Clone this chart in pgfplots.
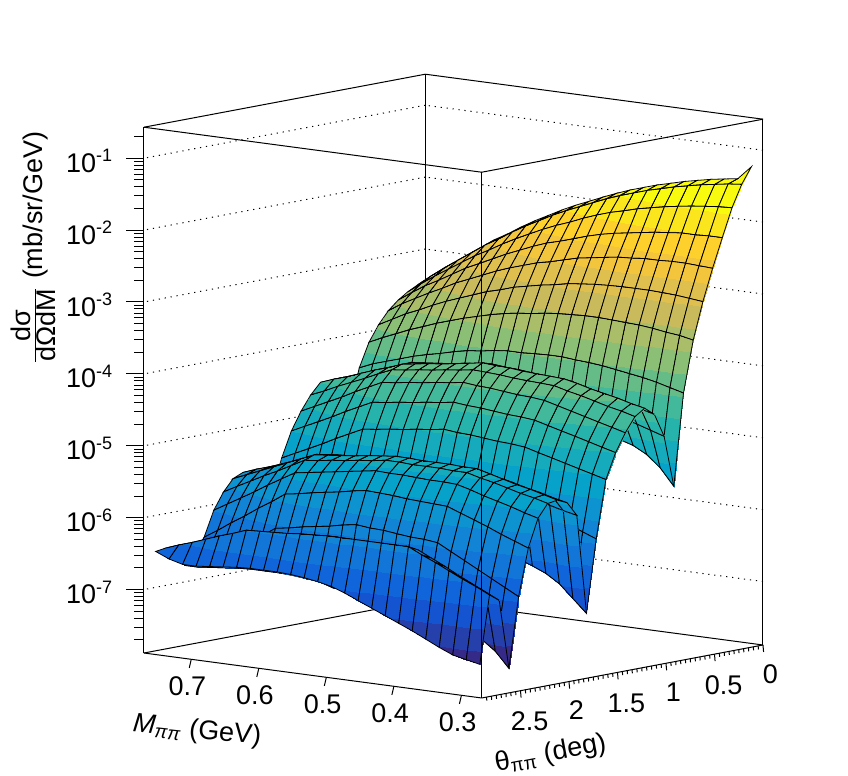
\documentclass[border=0pt]{standalone}
\usepackage{fontspec}
\setmainfont{Liberation Sans}
\usepackage{pgfplots}
\pgfplotsset{compat=1.18}
\pgfplotsset{colormap={bird20}{
rgb=(0.2082,0.1664,0.5293) rgb=(0.1455,0.2479,0.6721) rgb=(0.0827,0.3293,0.8148)
rgb=(0.0641,0.3978,0.8605) rgb=(0.0721,0.4585,0.8479) rgb=(0.0722,0.5186,0.8336)
rgb=(0.0492,0.5766,0.8137) rgb=(0.0261,0.6346,0.7939) rgb=(0.0810,0.6698,0.7366)
rgb=(0.1471,0.7018,0.6739) rgb=(0.2539,0.7244,0.6054) rgb=(0.4012,0.7376,0.5311)
rgb=(0.5453,0.7483,0.4601) rgb=(0.6668,0.7414,0.4111) rgb=(0.7882,0.7345,0.3621)
rgb=(0.8745,0.7497,0.3016) rgb=(0.9490,0.7721,0.2371) rgb=(0.9926,0.8173,0.1742)
rgb=(0.9845,0.9002,0.1141) rgb=(0.9764,0.9832,0.0539) rgb=(0.9764,0.9832,0.0539)}}
\newcommand{\tfont}{\fontsize{13.5}{16}\selectfont}
\newcommand{\ex}[1]{10\textsuperscript{\fontsize{9}{10}\selectfont #1}}
\begin{document}
\begin{tikzpicture}
\begin{axis}[
  x={(-337.7pt,45pt)}, y={(-48.5pt,-9.14pt)}, z={(0pt,15.61pt)},
  xmin=0.27, xmax=0.77, ymin=0, ymax=2.9, zmin=1.31e-8, zmax=0.27,
  zmode=log, enlargelimits=false, clip=false,
  3d box=complete,
  axis line style={black, line width=0.5pt},
  tick style={draw=none},
  tick align=outside,
  xticklabel pos=left, yticklabel pos=left, zticklabel pos=left,
  xtick pos=right, ytick pos=right, ztick pos=right,
  major tick length=5pt, minor tick length=2.5pt,
  xtick={0.3,0.4,0.5,0.6,0.7},
  ytick={0,0.5,1,1.5,2,2.5},
  ztick={1e-7,1e-6,1e-5,1e-4,1e-3,1e-2,1e-1},
  zticklabels={\ex{-7},\ex{-6},\ex{-5},\ex{-4},\ex{-3},\ex{-2},\ex{-1}},
  zmajorgrids=true,
  major grid style={black, line width=0.5pt, dash pattern=on 0.6pt off 2.4pt},
  tick label style={font=\tfont},
  xticklabel style={xshift=10.5pt, yshift=-3.5pt},
  yticklabel style={xshift=-8.5pt, yshift=-5.5pt},
  zticklabel style={xshift=-7pt},
  /pgf/number format/assume math mode=true,
  colormap name=bird20,
  colormap access=piecewise constant,
]
\addplot3[surf, shader=faceted interp, faceted color=black, line width=0.4pt, z buffer=sort, mesh/rows=29, mesh/cols=25]
table[x=m, y=t, z=z, row sep=\\] {
m t z\\
0.28 0.05 5.89e-2\\0.30 0.05 3.80e-2\\0.32 0.05 3.55e-2\\0.34 0.05 3.31e-2\\0.36 0.05 3.02e-2\\0.38 0.05 2.75e-2\\0.40 0.05 2.45e-2\\0.42 0.05 2.19e-2\\0.44 0.05 1.91e-2\\0.46 0.05 1.66e-2\\0.48 0.05 1.41e-2\\0.50 0.05 1.18e-2\\0.52 0.05 9.77e-3\\0.54 0.05 8.13e-3\\0.56 0.05 6.61e-3\\0.58 0.05 5.25e-3\\0.60 0.05 4.17e-3\\0.62 0.05 3.24e-3\\0.64 0.05 2.45e-3\\0.66 0.05 1.91e-3\\0.68 0.05 1.41e-3\\0.70 0.05 1.05e-3\\0.72 0.05 7.76e-4\\0.74 0.05 5.62e-4\\0.76 0.05 3.98e-4\\
0.28 0.15 3.55e-2\\0.30 0.15 3.39e-2\\0.32 0.15 3.16e-2\\0.34 0.15 2.95e-2\\0.36 0.15 2.69e-2\\0.38 0.15 2.45e-2\\0.40 0.15 2.19e-2\\0.42 0.15 1.95e-2\\0.44 0.15 1.70e-2\\0.46 0.15 1.48e-2\\0.48 0.15 1.26e-2\\0.50 0.15 1.05e-2\\0.52 0.15 8.71e-3\\0.54 0.15 7.24e-3\\0.56 0.15 5.89e-3\\0.58 0.15 4.68e-3\\0.60 0.15 3.72e-3\\0.62 0.15 2.88e-3\\0.64 0.15 2.19e-3\\0.66 0.15 1.70e-3\\0.68 0.15 1.26e-3\\0.70 0.15 9.33e-4\\0.72 0.15 6.92e-4\\0.74 0.15 5.01e-4\\0.76 0.15 3.55e-4\\
0.28 0.25 1.78e-2\\0.30 0.25 1.74e-2\\0.32 0.25 1.66e-2\\0.34 0.25 1.58e-2\\0.36 0.25 1.48e-2\\0.38 0.25 1.38e-2\\0.40 0.25 1.26e-2\\0.42 0.25 1.15e-2\\0.44 0.25 1.02e-2\\0.46 0.25 9.12e-3\\0.48 0.25 7.94e-3\\0.50 0.25 6.76e-3\\0.52 0.25 5.62e-3\\0.54 0.25 4.79e-3\\0.56 0.25 3.98e-3\\0.58 0.25 3.24e-3\\0.60 0.25 2.63e-3\\0.62 0.25 2.09e-3\\0.64 0.25 1.62e-3\\0.66 0.25 1.29e-3\\0.68 0.25 9.77e-4\\0.70 0.25 7.41e-4\\0.72 0.25 5.62e-4\\0.74 0.25 4.17e-4\\0.76 0.25 3.02e-4\\
0.28 0.35 7.24e-3\\0.30 0.35 7.24e-3\\0.32 0.35 7.08e-3\\0.34 0.35 7.08e-3\\0.36 0.35 6.76e-3\\0.38 0.35 6.46e-3\\0.40 0.35 6.03e-3\\0.42 0.35 5.62e-3\\0.44 0.35 5.25e-3\\0.46 0.35 4.79e-3\\0.48 0.35 4.27e-3\\0.50 0.35 3.72e-3\\0.52 0.35 3.24e-3\\0.54 0.35 2.88e-3\\0.56 0.35 2.45e-3\\0.58 0.35 2.04e-3\\0.60 0.35 1.70e-3\\0.62 0.35 1.38e-3\\0.64 0.35 1.12e-3\\0.66 0.35 9.12e-4\\0.68 0.35 7.08e-4\\0.70 0.35 5.50e-4\\0.72 0.35 4.37e-4\\0.74 0.35 3.31e-4\\0.76 0.35 2.45e-4\\
0.28 0.45 2.88e-3\\0.30 0.45 2.95e-3\\0.32 0.45 3.02e-3\\0.34 0.45 3.02e-3\\0.36 0.45 2.95e-3\\0.38 0.45 2.95e-3\\0.40 0.45 2.82e-3\\0.42 0.45 2.75e-3\\0.44 0.45 2.57e-3\\0.46 0.45 2.40e-3\\0.48 0.45 2.24e-3\\0.50 0.45 2.00e-3\\0.52 0.45 1.78e-3\\0.54 0.45 1.62e-3\\0.56 0.45 1.41e-3\\0.58 0.45 1.23e-3\\0.60 0.45 1.05e-3\\0.62 0.45 8.71e-4\\0.64 0.45 7.24e-4\\0.66 0.45 6.03e-4\\0.68 0.45 4.79e-4\\0.70 0.45 3.89e-4\\0.72 0.45 3.09e-4\\0.74 0.45 2.45e-4\\0.76 0.45 1.86e-4\\
0.28 0.55 1.05e-3\\0.30 0.55 1.10e-3\\0.32 0.55 1.15e-3\\0.34 0.55 1.18e-3\\0.36 0.55 1.20e-3\\0.38 0.55 1.20e-3\\0.40 0.55 1.20e-3\\0.42 0.55 1.18e-3\\0.44 0.55 1.15e-3\\0.46 0.55 1.10e-3\\0.48 0.55 1.05e-3\\0.50 0.55 9.55e-4\\0.52 0.55 8.91e-4\\0.54 0.55 8.13e-4\\0.56 0.55 7.41e-4\\0.58 0.55 6.46e-4\\0.60 0.55 5.75e-4\\0.62 0.55 4.90e-4\\0.64 0.55 4.17e-4\\0.66 0.55 3.55e-4\\0.68 0.55 2.95e-4\\0.70 0.55 2.40e-4\\0.72 0.55 2.00e-4\\0.74 0.55 1.58e-4\\0.76 0.55 1.26e-4\\
0.28 0.65 3.24e-4\\0.30 0.65 3.55e-4\\0.32 0.65 3.72e-4\\0.34 0.65 3.98e-4\\0.36 0.65 4.17e-4\\0.38 0.65 4.27e-4\\0.40 0.65 4.37e-4\\0.42 0.65 4.47e-4\\0.44 0.65 4.47e-4\\0.46 0.65 4.37e-4\\0.48 0.65 4.27e-4\\0.50 0.65 4.07e-4\\0.52 0.65 3.80e-4\\0.54 0.65 3.63e-4\\0.56 0.65 3.39e-4\\0.58 0.65 3.09e-4\\0.60 0.65 2.75e-4\\0.62 0.65 2.45e-4\\0.64 0.65 2.14e-4\\0.66 0.65 1.86e-4\\0.68 0.65 1.58e-4\\0.70 0.65 1.35e-4\\0.72 0.65 1.12e-4\\0.74 0.65 9.33e-5\\0.76 0.65 7.59e-5\\
0.28 0.75 6.31e-5\\0.30 0.75 7.08e-5\\0.32 0.75 7.94e-5\\0.34 0.75 8.71e-5\\0.36 0.75 9.33e-5\\0.38 0.75 1.00e-4\\0.40 0.75 1.07e-4\\0.42 0.75 1.12e-4\\0.44 0.75 1.15e-4\\0.46 0.75 1.20e-4\\0.48 0.75 1.20e-4\\0.50 0.75 1.18e-4\\0.52 0.75 1.15e-4\\0.54 0.75 1.15e-4\\0.56 0.75 1.10e-4\\0.58 0.75 1.02e-4\\0.60 0.75 9.77e-5\\0.62 0.75 8.91e-5\\0.64 0.75 7.94e-5\\0.66 0.75 7.24e-5\\0.68 0.75 6.46e-5\\0.70 0.75 5.62e-5\\0.72 0.75 4.90e-5\\0.74 0.75 4.27e-5\\0.76 0.75 3.55e-5\\
0.28 0.85 3.39e-6\\0.30 0.85 5.75e-6\\0.32 0.85 8.32e-6\\0.34 0.85 1.05e-5\\0.36 0.85 1.20e-5\\0.38 0.85 1.38e-5\\0.40 0.85 1.58e-5\\0.42 0.85 1.66e-5\\0.44 0.85 1.78e-5\\0.46 0.85 1.86e-5\\0.48 0.85 2.00e-5\\0.50 0.85 2.09e-5\\0.52 0.85 2.24e-5\\0.54 0.85 2.19e-5\\0.56 0.85 2.09e-5\\0.58 0.85 2.04e-5\\0.60 0.85 2.00e-5\\0.62 0.85 1.91e-5\\0.64 0.85 1.86e-5\\0.66 0.85 1.66e-5\\0.68 0.85 1.51e-5\\0.70 0.85 1.35e-5\\0.72 0.85 1.23e-5\\0.74 0.85 1.10e-5\\0.76 0.85 1.00e-5\\
0.28 0.95 1.78e-5\\0.30 0.95 2.04e-5\\0.32 0.95 2.34e-5\\0.34 0.95 2.63e-5\\0.36 0.95 3.02e-5\\0.38 0.95 3.47e-5\\0.40 0.95 3.98e-5\\0.42 0.95 4.17e-5\\0.44 0.95 4.47e-5\\0.46 0.95 4.68e-5\\0.48 0.95 5.01e-5\\0.50 0.95 5.25e-5\\0.52 0.95 5.62e-5\\0.54 0.95 5.50e-5\\0.56 0.95 5.25e-5\\0.58 0.95 5.13e-5\\0.60 0.95 5.01e-5\\0.62 0.95 4.79e-5\\0.64 0.95 4.68e-5\\0.66 0.95 4.17e-5\\0.68 0.95 3.80e-5\\0.70 0.95 3.39e-5\\0.72 0.95 3.09e-5\\0.74 0.95 2.75e-5\\0.76 0.95 2.51e-5\\
0.28 1.05 3.80e-5\\0.30 1.05 4.27e-5\\0.32 1.05 4.79e-5\\0.34 1.05 5.37e-5\\0.36 1.05 6.03e-5\\0.38 1.05 6.76e-5\\0.40 1.05 7.59e-5\\0.42 1.05 7.94e-5\\0.44 1.05 8.13e-5\\0.46 1.05 8.51e-5\\0.48 1.05 8.91e-5\\0.50 1.05 9.12e-5\\0.52 1.05 9.55e-5\\0.54 1.05 9.12e-5\\0.56 1.05 8.71e-5\\0.58 1.05 8.13e-5\\0.60 1.05 7.76e-5\\0.62 1.05 7.41e-5\\0.64 1.05 7.08e-5\\0.66 1.05 6.03e-5\\0.68 1.05 5.25e-5\\0.70 1.05 4.47e-5\\0.72 1.05 3.80e-5\\0.74 1.05 3.31e-5\\0.76 1.05 2.82e-5\\
0.28 1.15 4.90e-5\\0.30 1.15 5.37e-5\\0.32 1.15 6.03e-5\\0.34 1.15 6.61e-5\\0.36 1.15 7.24e-5\\0.38 1.15 8.13e-5\\0.40 1.15 8.91e-5\\0.42 1.15 9.12e-5\\0.44 1.15 9.33e-5\\0.46 1.15 9.55e-5\\0.48 1.15 1.00e-4\\0.50 1.15 1.02e-4\\0.52 1.15 1.05e-4\\0.54 1.15 9.77e-5\\0.56 1.15 9.12e-5\\0.58 1.15 8.51e-5\\0.60 1.15 8.13e-5\\0.62 1.15 7.59e-5\\0.64 1.15 7.08e-5\\0.66 1.15 6.03e-5\\0.68 1.15 5.25e-5\\0.70 1.15 4.47e-5\\0.72 1.15 3.80e-5\\0.74 1.15 3.31e-5\\0.76 1.15 2.82e-5\\
0.28 1.25 3.98e-5\\0.30 1.25 4.47e-5\\0.32 1.25 4.90e-5\\0.34 1.25 5.50e-5\\0.36 1.25 6.17e-5\\0.38 1.25 6.76e-5\\0.40 1.25 7.59e-5\\0.42 1.25 7.76e-5\\0.44 1.25 7.94e-5\\0.46 1.25 8.13e-5\\0.48 1.25 8.51e-5\\0.50 1.25 8.71e-5\\0.52 1.25 8.91e-5\\0.54 1.25 8.32e-5\\0.56 1.25 7.94e-5\\0.58 1.25 7.41e-5\\0.60 1.25 7.08e-5\\0.62 1.25 6.61e-5\\0.64 1.25 6.31e-5\\0.66 1.25 5.25e-5\\0.68 1.25 4.27e-5\\0.70 1.25 3.55e-5\\0.72 1.25 2.95e-5\\0.74 1.25 2.40e-5\\0.76 1.25 2.00e-5\\
0.28 1.35 2.51e-5\\0.30 1.35 2.82e-5\\0.32 1.35 3.16e-5\\0.34 1.35 3.55e-5\\0.36 1.35 3.98e-5\\0.38 1.35 4.47e-5\\0.40 1.35 5.01e-5\\0.42 1.35 5.25e-5\\0.44 1.35 5.37e-5\\0.46 1.35 5.62e-5\\0.48 1.35 5.89e-5\\0.50 1.35 6.03e-5\\0.52 1.35 6.31e-5\\0.54 1.35 5.89e-5\\0.56 1.35 5.62e-5\\0.58 1.35 5.25e-5\\0.60 1.35 5.01e-5\\0.62 1.35 4.68e-5\\0.64 1.35 4.47e-5\\0.66 1.35 3.63e-5\\0.68 1.35 2.95e-5\\0.70 1.35 2.34e-5\\0.72 1.35 1.91e-5\\0.74 1.35 1.55e-5\\0.76 1.35 1.26e-5\\
0.28 1.45 1.41e-5\\0.30 1.45 1.58e-5\\0.32 1.45 1.78e-5\\0.34 1.45 2.00e-5\\0.36 1.45 2.24e-5\\0.38 1.45 2.51e-5\\0.40 1.45 2.82e-5\\0.42 1.45 2.95e-5\\0.44 1.45 3.02e-5\\0.46 1.45 3.16e-5\\0.48 1.45 3.31e-5\\0.50 1.45 3.39e-5\\0.52 1.45 3.55e-5\\0.54 1.45 3.31e-5\\0.56 1.45 3.16e-5\\0.58 1.45 2.95e-5\\0.60 1.45 2.82e-5\\0.62 1.45 2.63e-5\\0.64 1.45 2.51e-5\\0.66 1.45 2.04e-5\\0.68 1.45 1.66e-5\\0.70 1.45 1.32e-5\\0.72 1.45 1.07e-5\\0.74 1.45 8.71e-6\\0.76 1.45 7.08e-6\\
0.28 1.55 6.31e-6\\0.30 1.55 7.08e-6\\0.32 1.55 7.94e-6\\0.34 1.55 8.91e-6\\0.36 1.55 1.00e-5\\0.38 1.55 1.12e-5\\0.40 1.55 1.26e-5\\0.42 1.55 1.32e-5\\0.44 1.55 1.35e-5\\0.46 1.55 1.41e-5\\0.48 1.55 1.48e-5\\0.50 1.55 1.51e-5\\0.52 1.55 1.58e-5\\0.54 1.55 1.48e-5\\0.56 1.55 1.41e-5\\0.58 1.55 1.32e-5\\0.60 1.55 1.26e-5\\0.62 1.55 1.18e-5\\0.64 1.55 1.12e-5\\0.66 1.55 9.12e-6\\0.68 1.55 7.41e-6\\0.70 1.55 5.89e-6\\0.72 1.55 4.79e-6\\0.74 1.55 3.89e-6\\0.76 1.55 3.16e-6\\
0.28 1.65 1.00e-6\\0.30 1.65 1.18e-6\\0.32 1.65 1.41e-6\\0.34 1.65 1.66e-6\\0.36 1.65 2.00e-6\\0.38 1.65 2.34e-6\\0.40 1.65 2.82e-6\\0.42 1.65 2.95e-6\\0.44 1.65 3.16e-6\\0.46 1.65 3.31e-6\\0.48 1.65 3.55e-6\\0.50 1.65 3.72e-6\\0.52 1.65 3.98e-6\\0.54 1.65 3.80e-6\\0.56 1.65 3.72e-6\\0.58 1.65 3.55e-6\\0.60 1.65 3.39e-6\\0.62 1.65 3.31e-6\\0.64 1.65 3.16e-6\\0.66 1.65 2.63e-6\\0.68 1.65 2.24e-6\\0.70 1.65 1.86e-6\\0.72 1.65 1.58e-6\\0.74 1.65 1.32e-6\\0.76 1.65 1.12e-6\\
0.28 1.75 9.77e-8\\0.30 1.75 1.48e-7\\0.32 1.75 2.24e-7\\0.34 1.75 2.95e-7\\0.36 1.75 3.55e-7\\0.38 1.75 4.17e-7\\0.40 1.75 5.01e-7\\0.42 1.75 5.25e-7\\0.44 1.75 5.62e-7\\0.46 1.75 5.89e-7\\0.48 1.75 6.31e-7\\0.50 1.75 6.61e-7\\0.52 1.75 7.08e-7\\0.54 1.75 6.76e-7\\0.56 1.75 6.61e-7\\0.58 1.75 6.31e-7\\0.60 1.75 6.03e-7\\0.62 1.75 5.89e-7\\0.64 1.75 5.62e-7\\0.66 1.75 4.68e-7\\0.68 1.75 3.98e-7\\0.70 1.75 3.31e-7\\0.72 1.75 2.82e-7\\0.74 1.75 2.34e-7\\0.76 1.75 2.00e-7\\
0.28 1.85 2.40e-6\\0.30 1.85 2.63e-6\\0.32 1.85 2.95e-6\\0.34 1.85 3.24e-6\\0.36 1.85 3.63e-6\\0.38 1.85 3.98e-6\\0.40 1.85 4.47e-6\\0.42 1.85 4.57e-6\\0.44 1.85 4.68e-6\\0.46 1.85 4.68e-6\\0.48 1.85 4.79e-6\\0.50 1.85 4.90e-6\\0.52 1.85 5.01e-6\\0.54 1.85 4.90e-6\\0.56 1.85 4.68e-6\\0.58 1.85 4.57e-6\\0.60 1.85 4.47e-6\\0.62 1.85 4.27e-6\\0.64 1.85 4.17e-6\\0.66 1.85 3.80e-6\\0.68 1.85 3.47e-6\\0.70 1.85 3.16e-6\\0.72 1.85 2.88e-6\\0.74 1.85 2.63e-6\\0.76 1.85 2.40e-6\\
0.28 1.95 3.80e-6\\0.30 1.95 4.17e-6\\0.32 1.95 4.68e-6\\0.34 1.95 5.13e-6\\0.36 1.95 5.75e-6\\0.38 1.95 6.31e-6\\0.40 1.95 7.08e-6\\0.42 1.95 7.24e-6\\0.44 1.95 7.41e-6\\0.46 1.95 7.41e-6\\0.48 1.95 7.59e-6\\0.50 1.95 7.76e-6\\0.52 1.95 7.94e-6\\0.54 1.95 7.59e-6\\0.56 1.95 7.41e-6\\0.58 1.95 7.08e-6\\0.60 1.95 6.76e-6\\0.62 1.95 6.61e-6\\0.64 1.95 6.31e-6\\0.66 1.95 5.37e-6\\0.68 1.95 4.68e-6\\0.70 1.95 3.98e-6\\0.72 1.95 3.39e-6\\0.74 1.95 2.95e-6\\0.76 1.95 2.51e-6\\
0.28 2.05 4.37e-6\\0.30 2.05 4.90e-6\\0.32 2.05 5.50e-6\\0.34 2.05 6.03e-6\\0.36 2.05 6.76e-6\\0.38 2.05 7.59e-6\\0.40 2.05 8.51e-6\\0.42 2.05 8.51e-6\\0.44 2.05 8.71e-6\\0.46 2.05 8.71e-6\\0.48 2.05 8.71e-6\\0.50 2.05 8.91e-6\\0.52 2.05 8.91e-6\\0.54 2.05 8.51e-6\\0.56 2.05 8.13e-6\\0.58 2.05 7.59e-6\\0.60 2.05 7.24e-6\\0.62 2.05 6.92e-6\\0.64 2.05 6.61e-6\\0.66 2.05 5.50e-6\\0.68 2.05 4.57e-6\\0.70 2.05 3.80e-6\\0.72 2.05 3.16e-6\\0.74 2.05 2.63e-6\\0.76 2.05 2.19e-6\\
0.28 2.15 4.17e-6\\0.30 2.15 4.68e-6\\0.32 2.15 5.13e-6\\0.34 2.15 5.75e-6\\0.36 2.15 6.46e-6\\0.38 2.15 7.08e-6\\0.40 2.15 7.94e-6\\0.42 2.15 7.94e-6\\0.44 2.15 8.13e-6\\0.46 2.15 8.13e-6\\0.48 2.15 8.13e-6\\0.50 2.15 8.32e-6\\0.52 2.15 8.32e-6\\0.54 2.15 7.76e-6\\0.56 2.15 7.41e-6\\0.58 2.15 6.92e-6\\0.60 2.15 6.61e-6\\0.62 2.15 6.17e-6\\0.64 2.15 5.89e-6\\0.66 2.15 4.68e-6\\0.68 2.15 3.72e-6\\0.70 2.15 3.02e-6\\0.72 2.15 2.40e-6\\0.74 2.15 1.91e-6\\0.76 2.15 1.51e-6\\
0.28 2.25 2.75e-6\\0.30 2.25 3.09e-6\\0.32 2.25 3.55e-6\\0.34 2.25 3.98e-6\\0.36 2.25 4.47e-6\\0.38 2.25 5.13e-6\\0.40 2.25 5.75e-6\\0.42 2.25 5.89e-6\\0.44 2.25 5.89e-6\\0.46 2.25 6.03e-6\\0.48 2.25 6.17e-6\\0.50 2.25 6.17e-6\\0.52 2.25 6.31e-6\\0.54 2.25 5.89e-6\\0.56 2.25 5.50e-6\\0.58 2.25 5.13e-6\\0.60 2.25 4.79e-6\\0.62 2.25 4.47e-6\\0.64 2.25 4.17e-6\\0.66 2.25 3.24e-6\\0.68 2.25 2.51e-6\\0.70 2.25 1.91e-6\\0.72 2.25 1.48e-6\\0.74 2.25 1.15e-6\\0.76 2.25 8.91e-7\\
0.28 2.35 1.12e-6\\0.30 2.35 1.32e-6\\0.32 2.35 1.55e-6\\0.34 2.35 1.86e-6\\0.36 2.35 2.19e-6\\0.38 2.35 2.57e-6\\0.40 2.35 3.02e-6\\0.42 2.35 3.09e-6\\0.44 2.35 3.16e-6\\0.46 2.35 3.24e-6\\0.48 2.35 3.39e-6\\0.50 2.35 3.47e-6\\0.52 2.35 3.55e-6\\0.54 2.35 3.31e-6\\0.56 2.35 3.02e-6\\0.58 2.35 2.82e-6\\0.60 2.35 2.63e-6\\0.62 2.35 2.40e-6\\0.64 2.35 2.24e-6\\0.66 2.35 1.66e-6\\0.68 2.35 1.26e-6\\0.70 2.35 9.33e-7\\0.72 2.35 7.08e-7\\0.74 2.35 5.25e-7\\0.76 2.35 3.98e-7\\
0.28 2.45 2.51e-7\\0.30 2.45 3.16e-7\\0.32 2.45 3.98e-7\\0.34 2.45 5.01e-7\\0.36 2.45 6.31e-7\\0.38 2.45 7.94e-7\\0.40 2.45 1.00e-6\\0.42 2.45 1.05e-6\\0.44 2.45 1.07e-6\\0.46 2.45 1.12e-6\\0.48 2.45 1.18e-6\\0.50 2.45 1.20e-6\\0.52 2.45 1.26e-6\\0.54 2.45 1.18e-6\\0.56 2.45 1.07e-6\\0.58 2.45 1.00e-6\\0.60 2.45 9.33e-7\\0.62 2.45 8.51e-7\\0.64 2.45 7.94e-7\\0.66 2.45 5.89e-7\\0.68 2.45 4.68e-7\\0.70 2.45 3.80e-7\\0.72 2.45 3.16e-7\\0.74 2.45 2.75e-7\\0.76 2.45 2.51e-7\\
0.28 2.55 2.69e-8\\0.30 2.55 4.37e-8\\0.32 2.55 6.03e-8\\0.34 2.55 8.32e-8\\0.36 2.55 1.05e-7\\0.38 2.55 1.29e-7\\0.40 2.55 1.58e-7\\0.42 2.55 1.58e-7\\0.44 2.55 1.62e-7\\0.46 2.55 1.62e-7\\0.48 2.55 1.66e-7\\0.50 2.55 1.66e-7\\0.52 2.55 1.70e-7\\0.54 2.55 1.66e-7\\0.56 2.55 1.91e-7\\0.58 2.55 2.00e-7\\0.60 2.55 2.09e-7\\0.62 2.55 2.14e-7\\0.64 2.55 2.14e-7\\0.66 2.55 2.14e-7\\0.68 2.55 2.09e-7\\0.70 2.55 2.00e-7\\0.72 2.55 1.91e-7\\0.74 2.55 1.82e-7\\0.76 2.55 1.82e-7\\
0.28 2.65 2.51e-7\\0.30 2.65 3.09e-7\\0.32 2.65 3.80e-7\\0.34 2.65 4.68e-7\\0.36 2.65 5.89e-7\\0.38 2.65 7.24e-7\\0.40 2.65 8.91e-7\\0.42 2.65 8.91e-7\\0.44 2.65 9.12e-7\\0.46 2.65 9.12e-7\\0.48 2.65 9.33e-7\\0.50 2.65 9.33e-7\\0.52 2.65 9.55e-7\\0.54 2.65 9.33e-7\\0.56 2.65 8.91e-7\\0.58 2.65 8.71e-7\\0.60 2.65 8.51e-7\\0.62 2.65 8.13e-7\\0.64 2.65 7.94e-7\\0.66 2.65 6.92e-7\\0.68 2.65 6.03e-7\\0.70 2.65 5.25e-7\\0.72 2.65 4.68e-7\\0.74 2.65 4.07e-7\\0.76 2.65 3.55e-7\\
0.28 2.75 3.16e-7\\0.30 2.75 3.89e-7\\0.32 2.75 4.68e-7\\0.34 2.75 5.75e-7\\0.36 2.75 7.08e-7\\0.38 2.75 8.51e-7\\0.40 2.75 1.05e-6\\0.42 2.75 1.05e-6\\0.44 2.75 1.05e-6\\0.46 2.75 1.05e-6\\0.48 2.75 1.05e-6\\0.50 2.75 1.05e-6\\0.52 2.75 1.05e-6\\0.54 2.75 1.02e-6\\0.56 2.75 1.00e-6\\0.58 2.75 9.55e-7\\0.60 2.75 9.33e-7\\0.62 2.75 9.12e-7\\0.64 2.75 8.91e-7\\0.66 2.75 7.59e-7\\0.68 2.75 6.61e-7\\0.70 2.75 5.62e-7\\0.72 2.75 4.79e-7\\0.74 2.75 4.17e-7\\0.76 2.75 3.55e-7\\
0.28 2.85 3.63e-8\\0.30 2.85 3.98e-8\\0.32 2.85 4.37e-8\\0.34 2.85 5.25e-8\\0.36 2.85 6.46e-8\\0.38 2.85 7.94e-8\\0.40 2.85 9.55e-8\\0.42 2.85 1.15e-7\\0.44 2.85 1.38e-7\\0.46 2.85 1.66e-7\\0.48 2.85 2.00e-7\\0.50 2.85 2.34e-7\\0.52 2.85 2.57e-7\\0.54 2.85 2.75e-7\\0.56 2.85 2.88e-7\\0.58 2.85 2.95e-7\\0.60 2.85 2.95e-7\\0.62 2.85 2.95e-7\\0.64 2.85 2.88e-7\\0.66 2.85 2.75e-7\\0.68 2.85 2.63e-7\\0.70 2.85 2.51e-7\\0.72 2.85 2.51e-7\\0.74 2.85 2.82e-7\\0.76 2.85 3.39e-7\\
};
\pgfplotsinvokeforeach{1e-7,1e-6,1e-5,1e-4,1e-3,1e-2,1e-1}{\draw[black,line width=0.5pt] (axis cs:0.77,2.9,#1) -- ++(-9pt,0pt);}
\pgfplotsinvokeforeach{2e-8,3e-8,4e-8,5e-8,6e-8,7e-8,8e-8,9e-8,2e-7,3e-7,4e-7,5e-7,6e-7,7e-7,8e-7,9e-7,2e-6,3e-6,4e-6,5e-6,6e-6,7e-6,8e-6,9e-6,2e-5,3e-5,4e-5,5e-5,6e-5,7e-5,8e-5,9e-5,2e-4,3e-4,4e-4,5e-4,6e-4,7e-4,8e-4,9e-4,2e-3,3e-3,4e-3,5e-3,6e-3,7e-3,8e-3,9e-3,2e-2,3e-2,4e-2,5e-2,6e-2,7e-2,8e-2,9e-2,2e-1}{\draw[black,line width=0.5pt] (axis cs:0.77,2.9,#1) -- ++(-5pt,0pt);}
\pgfplotsinvokeforeach{0.3,0.4,0.5,0.6,0.7}{\draw[black,line width=0.5pt] (axis cs:#1,2.9,1.31e-8) -- ++(-1pt,-4.3pt);}
\pgfplotsinvokeforeach{0,0.5,1,1.5,2,2.5}{\draw[black,line width=0.5pt] (axis cs:0.27,#1,1.31e-8) -- ++(0.3pt,-3.5pt);}
\pgfplotsinvokeforeach{0.05,0.1,0.15,0.2,0.25,0.3,0.35,0.4,0.45,0.55,0.6,0.65,0.7,0.75,0.8,0.85,0.9,0.95,1.05,1.1,1.15,1.2,1.25,1.3,1.35,1.4,1.45,1.55,1.6,1.65,1.7,1.75,1.8,1.85,1.9,1.95,2.05,2.1,2.15,2.2,2.25,2.3,2.35,2.4,2.45,2.55,2.6,2.65,2.7,2.75,2.8,2.85}{\draw[black,line width=0.5pt] (axis cs:0.27,#1,1.31e-8) -- ++(0.15pt,-1.8pt);}
\coordinate (F) at (axis cs:0.27,2.9,1.31e-8);
\end{axis}
\node[font=\tfont, rotate=-6] at ([shift={(-142.35pt,-16.5pt)}]F) {\textit{M}\textsubscript{\textit{ππ}} (GeV)};
\node[font=\tfont, rotate=10.6] at ([shift={(34.5pt,-28pt)}]F) {θ\textsubscript{ππ} (deg)};
\node[font=\tfont, rotate=90] at ([shift={(-224pt,225pt)}]F) {$\frac{\mbox{dσ}}{\mbox{dΩdM}}$ (mb/sr/GeV)};
\pgfresetboundingbox
\path[use as bounding box] ([shift={(-240.85pt,-39pt)}]F) rectangle ([shift={(183.15pt,349pt)}]F);
\end{tikzpicture}
\end{document}
